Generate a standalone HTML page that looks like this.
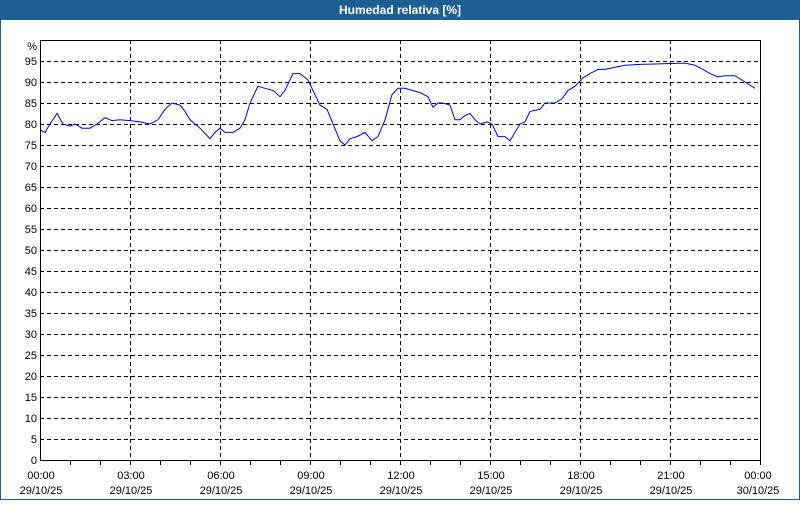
<!DOCTYPE html>
<html><head><style>
body{margin:0;width:800px;height:500px;overflow:hidden;background:#fff;font-family:"Liberation Sans",sans-serif;}
</style></head><body>
<svg width="800" height="500" xmlns="http://www.w3.org/2000/svg" font-family="Liberation Sans, sans-serif" font-size="11">
<rect x="0" y="0" width="800" height="500" fill="#fff"/>
<rect x="0" y="0" width="800" height="20" fill="#1d5f95"/>
<rect x="0.5" y="0.5" width="799" height="499" fill="none" stroke="#1d5f95"/>
<text x="400" y="14" fill="#fff" font-weight="bold" font-size="12" text-anchor="middle">Humedad relativa [%]</text>
<g stroke="#000" stroke-dasharray="4,3" stroke-width="1">
<path d="M40 61.5H760M40 82.5H760M40 103.5H760M40 124.5H760M40 145.5H760M40 166.5H760M40 187.5H760M40 208.5H760M40 229.5H760M40 250.5H760M40 271.5H760M40 292.5H760M40 313.5H760M40 334.5H760M40 355.5H760M40 376.5H760M40 397.5H760M40 418.5H760M40 439.5H760"/>
<path d="M130.5 40V460M220.5 40V460M310.5 40V460M400.5 40V460M490.5 40V460M580.5 40V460M670.5 40V460"/>
</g>
<rect x="40.5" y="40.5" width="720" height="420" fill="none" stroke="#000"/>
<g stroke="#000"><path d="M70.5 461v4M100.5 461v4M130.5 461v4M160.5 461v4M190.5 461v4M220.5 461v4M250.5 461v4M280.5 461v4M310.5 461v4M340.5 461v4M370.5 461v4M400.5 461v4M430.5 461v4M460.5 461v4M490.5 461v4M520.5 461v4M550.5 461v4M580.5 461v4M610.5 461v4M640.5 461v4M670.5 461v4M700.5 461v4M730.5 461v4M760.5 461v4"/></g>
<g text-anchor="end" fill="#000">
<text x="37" y="50">%</text>
<text x="37" y="65">95</text><text x="37" y="86">90</text><text x="37" y="107">85</text><text x="37" y="128">80</text><text x="37" y="149">75</text><text x="37" y="170">70</text><text x="37" y="191">65</text><text x="37" y="212">60</text><text x="37" y="233">55</text><text x="37" y="254">50</text><text x="37" y="275">45</text><text x="37" y="296">40</text><text x="37" y="317">35</text><text x="37" y="338">30</text><text x="37" y="359">25</text><text x="37" y="380">20</text><text x="37" y="401">15</text><text x="37" y="422">10</text><text x="37" y="443">5</text><text x="37" y="464">0</text>
</g>
<g text-anchor="middle" fill="#000">
<text x="41" y="479">00:00</text><text x="41" y="494">29/10/25</text>
<text x="131" y="479">03:00</text><text x="131" y="494">29/10/25</text>
<text x="221" y="479">06:00</text><text x="221" y="494">29/10/25</text>
<text x="311" y="479">09:00</text><text x="311" y="494">29/10/25</text>
<text x="401" y="479">12:00</text><text x="401" y="494">29/10/25</text>
<text x="491" y="479">15:00</text><text x="491" y="494">29/10/25</text>
<text x="581" y="479">18:00</text><text x="581" y="494">29/10/25</text>
<text x="671" y="479">21:00</text><text x="671" y="494">29/10/25</text>
<text x="758" y="479">00:00</text><text x="758" y="494">30/10/25</text>
</g>
<polyline fill="none" stroke="#0000ff" stroke-width="1" points="
41,130.3 45,132.4 50,124 57,113.5 63,124 70,126.1 75,124 82,128.2 90,128.2 97,124 105,117.7 112,120.6 120,119.8 130,120.6 140,121.9 150,124 158,119.8 165,109.3 172,103 180,105.1 185,111.4 190,119.8 200,128.2 210,138.7 215,132.4 220,128.2 225,132.4 233,132.4 240,128.2 245,119.8 250,103 258,86.2 265,88.3 273,90.4 280,96.7 285,90.4 293,73.6 300,73.6 308,79.9 315,94.6 320,105.1 327,109.3 333,124 340,140.8 345,145 350,138.7 357,136.6 365,132.4 372,140.8 378,136.6 385,119.8 392,94.6 398,88.3 405,88.3 412,90.4 420,92.5 428,96.7 433,107.2 438,103 443,103 450,105.1 455,119.8 460,119.8 465,115.6 470,113.5 475,119.8 480,124 487,121.9 492,124 498,136.6 505,136.6 510,140.8 515,132.4 520,124 525,121.9 530,111.4 540,109.3 545,103 555,103 562,98.8 568,90.4 575,86.2 583,77.8 590,73.6 598,69.4 605,69.4 615,67.3 625,65.2 640,64.4 655,64 670,63.5 685,63.1 695,65.2 703,69.4 710,73.6 718,77 725,75.7 735,75.7 745,82 755,88.3"/>
</svg>
</body></html>
